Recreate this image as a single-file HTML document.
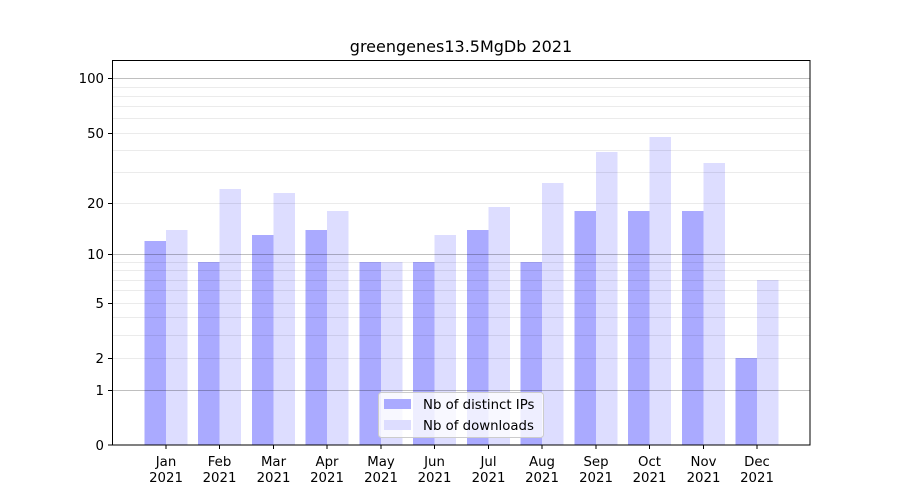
<!DOCTYPE html>
<html><head><style>body{margin:0;background:#fff}svg{display:block}text{font-family:"DejaVu Sans","Liberation Sans",sans-serif;fill:#000}</style></head>
<body>
<svg width="900" height="500" xmlns="http://www.w3.org/2000/svg">
<rect width="900" height="500" fill="#fff"/>
<g id="bars"></g>
<g>
<rect x="144.5" y="241" width="21.5" height="204" fill="#aaaaff"/><rect x="166" y="230" width="21.5" height="215" fill="#ddddff"/>
<rect x="198" y="262" width="21.5" height="183" fill="#aaaaff"/><rect x="219.5" y="189" width="21.5" height="256" fill="#ddddff"/>
<rect x="252" y="235" width="21.5" height="210" fill="#aaaaff"/><rect x="273.5" y="193" width="21.5" height="252" fill="#ddddff"/>
<rect x="305.5" y="230" width="21.5" height="215" fill="#aaaaff"/><rect x="327" y="211" width="21.5" height="234" fill="#ddddff"/>
<rect x="359.5" y="262" width="21.5" height="183" fill="#aaaaff"/><rect x="381" y="262" width="21.5" height="183" fill="#ddddff"/>
<rect x="413" y="262" width="21.5" height="183" fill="#aaaaff"/><rect x="434.5" y="235" width="21.5" height="210" fill="#ddddff"/>
<rect x="467" y="230" width="21.5" height="215" fill="#aaaaff"/><rect x="488.5" y="207" width="21.5" height="238" fill="#ddddff"/>
<rect x="520.5" y="262" width="21.5" height="183" fill="#aaaaff"/><rect x="542" y="183" width="21.5" height="262" fill="#ddddff"/>
<rect x="574.5" y="211" width="21.5" height="234" fill="#aaaaff"/><rect x="596" y="152" width="21.5" height="293" fill="#ddddff"/>
<rect x="628" y="211" width="21.5" height="234" fill="#aaaaff"/><rect x="649.5" y="137" width="21.5" height="308" fill="#ddddff"/>
<rect x="682" y="211" width="21.5" height="234" fill="#aaaaff"/><rect x="703.5" y="163" width="21.5" height="282" fill="#ddddff"/>
<rect x="735.5" y="358" width="21.5" height="87" fill="#aaaaff"/><rect x="757" y="280" width="21.5" height="165" fill="#ddddff"/>
</g>
<g stroke="#000" stroke-opacity="0.08" stroke-width="1">
<line x1="112" x2="810" y1="87.5" y2="87.5"/><line x1="112" x2="810" y1="96.5" y2="96.5"/><line x1="112" x2="810" y1="106.5" y2="106.5"/><line x1="112" x2="810" y1="118.5" y2="118.5"/><line x1="112" x2="810" y1="133.5" y2="133.5"/><line x1="112" x2="810" y1="150.5" y2="150.5"/><line x1="112" x2="810" y1="172.5" y2="172.5"/><line x1="112" x2="810" y1="203.5" y2="203.5"/>
<line x1="112" x2="810" y1="262.5" y2="262.5"/><line x1="112" x2="810" y1="270.5" y2="270.5"/><line x1="112" x2="810" y1="280.5" y2="280.5"/><line x1="112" x2="810" y1="290.5" y2="290.5"/><line x1="112" x2="810" y1="303.5" y2="303.5"/><line x1="112" x2="810" y1="317.5" y2="317.5"/><line x1="112" x2="810" y1="335.5" y2="335.5"/><line x1="112" x2="810" y1="358.5" y2="358.5"/>
</g>
<g stroke="#000" stroke-opacity="0.25" stroke-width="1">
<line x1="112" x2="810" y1="78.5" y2="78.5"/><line x1="112" x2="810" y1="254.5" y2="254.5"/><line x1="112" x2="810" y1="390.5" y2="390.5"/>
</g>
<rect x="112.5" y="60.5" width="697.5" height="384.5" fill="none" stroke="#000" stroke-width="1"/>
<g stroke="#000">
<line x1="108" x2="112" y1="78.5" y2="78.5"/><line x1="108" x2="112" y1="133.5" y2="133.5"/><line x1="108" x2="112" y1="203.5" y2="203.5"/><line x1="108" x2="112" y1="254.5" y2="254.5"/><line x1="108" x2="112" y1="303.5" y2="303.5"/><line x1="108" x2="112" y1="358.5" y2="358.5"/><line x1="108" x2="112" y1="390.5" y2="390.5"/><line x1="108" x2="112" y1="445" y2="445"/>
<line x1="166" x2="166" y1="445" y2="449"/><line x1="219.5" x2="219.5" y1="445" y2="449"/><line x1="273.5" x2="273.5" y1="445" y2="449"/><line x1="327" x2="327" y1="445" y2="449"/><line x1="381" x2="381" y1="445" y2="449"/><line x1="434.5" x2="434.5" y1="445" y2="449"/><line x1="488.5" x2="488.5" y1="445" y2="449"/><line x1="542" x2="542" y1="445" y2="449"/><line x1="596" x2="596" y1="445" y2="449"/><line x1="649.5" x2="649.5" y1="445" y2="449"/><line x1="703.5" x2="703.5" y1="445" y2="449"/><line x1="757" x2="757" y1="445" y2="449"/>
</g>
<g font-size="13.3" text-anchor="end">
<text x="104" y="83">100</text><text x="104" y="138">50</text><text x="104" y="208">20</text><text x="104" y="259">10</text><text x="104" y="308">5</text><text x="104" y="363">2</text><text x="104" y="395">1</text><text x="104" y="450">0</text>
</g>
<g font-size="13.3" text-anchor="middle">
<text x="166" y="466">Jan</text><text x="166" y="482">2021</text>
<text x="219.5" y="466">Feb</text><text x="219.5" y="482">2021</text>
<text x="273.5" y="466">Mar</text><text x="273.5" y="482">2021</text>
<text x="327" y="466">Apr</text><text x="327" y="482">2021</text>
<text x="381" y="466">May</text><text x="381" y="482">2021</text>
<text x="434.5" y="466">Jun</text><text x="434.5" y="482">2021</text>
<text x="488.5" y="466">Jul</text><text x="488.5" y="482">2021</text>
<text x="542" y="466">Aug</text><text x="542" y="482">2021</text>
<text x="596" y="466">Sep</text><text x="596" y="482">2021</text>
<text x="649.5" y="466">Oct</text><text x="649.5" y="482">2021</text>
<text x="703.5" y="466">Nov</text><text x="703.5" y="482">2021</text>
<text x="757" y="466">Dec</text><text x="757" y="482">2021</text>
<text x="461" y="52" font-size="16">greengenes13.5MgDb 2021</text>
</g>
<rect x="378.5" y="392.5" width="165" height="45" rx="3" fill="#fff" fill-opacity="0.8" stroke="#ccc"/>
<rect x="384" y="399" width="27" height="10" fill="#aaaaff"/>
<rect x="384" y="420" width="27" height="10" fill="#ddddff"/>
<g font-size="13.3"><text x="423" y="409">Nb of distinct IPs</text><text x="423" y="430">Nb of downloads</text></g>
</svg>
</body></html>
